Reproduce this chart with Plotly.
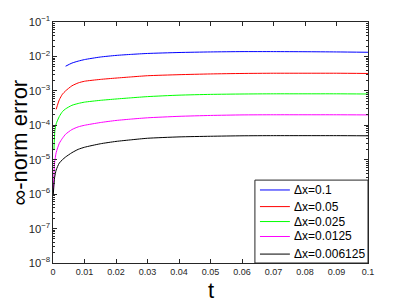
import plotly.graph_objects as go

t_blue = [0.004, 0.006, 0.008, 0.01, 0.015, 0.02, 0.025, 0.03, 0.04, 0.05, 0.06, 0.07, 0.08, 0.09, 0.1]
e_blue = [5.2e-3, 6.4e-3, 7.3e-3, 8.1e-3, 9.6e-3, 1.07e-2, 1.15e-2, 1.22e-2, 1.3e-2, 1.35e-2, 1.38e-2, 1.38e-2, 1.37e-2, 1.35e-2, 1.32e-2]

t_red = [0.001, 0.002, 0.003, 0.004, 0.006, 0.008, 0.01, 0.015, 0.02, 0.025, 0.03, 0.04, 0.05, 0.06, 0.07, 0.08, 0.09, 0.1]
e_red = [2.9e-4, 5.5e-4, 8e-4, 1.0e-3, 1.4e-3, 1.7e-3, 1.9e-3, 2.15e-3, 2.35e-3, 2.55e-3, 2.75e-3, 2.95e-3, 3.1e-3, 3.2e-3, 3.25e-3, 3.25e-3, 3.25e-3, 3.2e-3]

t_green = [0.0003, 0.0006, 0.001, 0.002, 0.003, 0.004, 0.006, 0.008, 0.01, 0.015, 0.02, 0.025, 0.03, 0.04, 0.05, 0.06, 0.07, 0.08, 0.09, 0.1]
e_green = [1.9e-5, 7e-5, 1.1e-4, 1.8e-4, 2.5e-4, 3e-4, 3.8e-4, 4.3e-4, 4.7e-4, 5.3e-4, 5.8e-4, 6.3e-4, 6.8e-4, 7.5e-4, 7.9e-4, 8.1e-4, 8.2e-4, 8.2e-4, 8.2e-4, 8.1e-4]

t_mag = [0.0001, 0.0005, 0.001, 0.002, 0.003, 0.004, 0.006, 0.008, 0.01, 0.015, 0.02, 0.025, 0.03, 0.04, 0.05, 0.06, 0.07, 0.08, 0.09, 0.1]
e_mag = [1.2e-6, 8e-6, 1.6e-5, 3e-5, 4.2e-5, 5.5e-5, 7.5e-5, 9e-5, 1.0e-4, 1.2e-4, 1.38e-4, 1.52e-4, 1.65e-4, 1.82e-4, 1.93e-4, 2.0e-4, 2.02e-4, 2.02e-4, 2.02e-4, 2.0e-4]

t_black = [0.0001, 0.0005, 0.001, 0.002, 0.003, 0.004, 0.006, 0.008, 0.01, 0.015, 0.02, 0.025, 0.03, 0.04, 0.05, 0.06, 0.07, 0.08, 0.09, 0.1]
e_black = [1e-6, 3e-6, 5e-6, 8e-6, 1.0e-5, 1.2e-5, 1.6e-5, 2.0e-5, 2.3e-5, 2.9e-5, 3.4e-5, 3.8e-5, 4.2e-5, 4.6e-5, 4.8e-5, 4.95e-5, 5.0e-5, 5.0e-5, 5.0e-5, 4.95e-5]

labels = ["Δx=0.1", "Δx=0.05", "Δx=0.025", "Δx=0.0125", "Δx=0.006125"]
colors = ["#0000FF", "#FF0000", "#00FF00", "#FF00FF", "#000000"]
series = [(t_blue, e_blue), (t_red, e_red), (t_green, e_green), (t_mag, e_mag), (t_black, e_black)]

x_ticks = [0, 0.01, 0.02, 0.03, 0.04, 0.05, 0.06, 0.07, 0.08, 0.09, 0.1]
x_ticktext = ["0", "0.01", "0.02", "0.03", "0.04", "0.05", "0.06", "0.07", "0.08", "0.09", "0.1"]

fig = go.Figure()
for (tt, ee), lab, col in zip(series, labels, colors):
    fig.add_trace(go.Scatter(x=tt, y=ee, mode="lines", name=lab, showlegend=False,
                             line=dict(color=col, width=1, shape="spline", smoothing=0.6)))

axcol = "#262626"
font_family = "Liberation Sans, Arial, sans-serif"

# page body has an 8px margin; compensate so the axes land where the reference has them
W, H = 399, 297
fig.update_layout(
    width=W, height=H,
    margin=dict(l=45, r=39, t=14, b=42),
    paper_bgcolor="white", plot_bgcolor="white",
    font=dict(family=font_family, size=9, color=axcol),
    showlegend=False,
    xaxis=dict(range=[0, 0.1], tickvals=x_ticks, ticktext=x_ticktext,
               ticks="inside", ticklen=4, tickcolor=axcol, automargin=False,
               showline=True, linecolor=axcol, linewidth=1, mirror="ticks",
               showgrid=False, zeroline=False),
    yaxis=dict(type="log", range=[-8, -1], dtick=1, exponentformat="power",
               ticks="inside", ticklen=4, tickcolor=axcol, automargin=False,
               minor=dict(ticks="inside", ticklen=2, tickcolor=axcol, showgrid=False),
               showline=True, linecolor=axcol, linewidth=1, mirror="ticks",
               showgrid=False, zeroline=False),
)

annotations = [
    dict(text="t", xref="paper", yref="paper", x=0.5, y=0, yshift=-27,
         xanchor="center", yanchor="middle", showarrow=False,
         font=dict(size=22, color="#000000")),
    dict(text="∞-norm error", xref="paper", yref="paper", x=0, xshift=-34, y=0.5,
         xanchor="center", yanchor="middle", textangle=-90, showarrow=False,
         font=dict(size=22, color="#000000")),
]

# legend box (bottom-right, MATLAB style)
shapes = [dict(type="rect", xref="paper", yref="paper", x0=0.641, x1=1.0, y0=0.0, y1=0.344,
               fillcolor="white", line=dict(color=axcol, width=1), layer="above")]
row_y = [0.303, 0.234, 0.172, 0.110, 0.037]
for lab, col, ry in zip(labels, colors, row_y):
    shapes.append(dict(type="line", xref="paper", yref="paper", x0=0.657, x1=0.752, y0=ry, y1=ry,
                       line=dict(color=col, width=1), layer="above"))
    annotations.append(dict(text=lab, xref="paper", yref="paper", x=0.760, y=ry,
                            xanchor="left", yanchor="middle", showarrow=False,
                            font=dict(size=12, color="#000000")))

fig.update_layout(shapes=shapes, annotations=annotations)

fig.write_html("out.html")
